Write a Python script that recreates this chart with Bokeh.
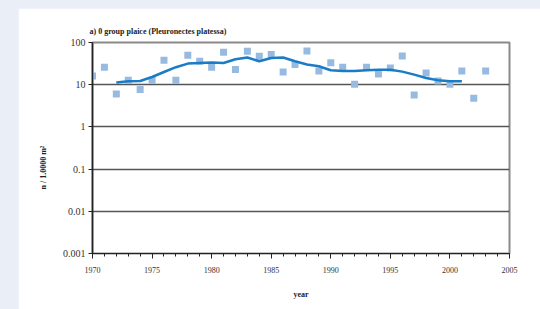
from bokeh.plotting import figure
from bokeh.models import FixedTicker, Range1d, ColumnDataSource, Title
from bokeh.embed import file_html
from bokeh.resources import INLINE

# Observed values (0 group plaice, n / 1.0000 m²)
years = list(range(1970, 2004))
density = [16, 26, 6, 12.7, 7.7, 12.7, 38, 12.7, 50, 36,
           26, 59, 23, 62, 47, 52, 20, 30, 63, 21,
           33, 26, 10.3, 26, 18, 25, 48, 5.7, 19, 12.2,
           10.2, 21, 4.8, 21]

# Smoothed trend
trend_years = list(range(1972, 2002))
trend = [11.3, 12, 12.2, 15.2, 20, 26, 31.6, 32.6, 33.5, 32.6,
         40, 44, 36, 43, 44, 36, 30, 27.3, 22, 21,
         21, 22, 22.7, 22.7, 20.4, 17.3, 14.4, 12.7, 12, 12]

y_ticks = [0.001, 0.01, 0.1, 1, 10, 100]
y_tick_labels = ["0.001", "0.01", "0.1", "1", "10", "100"]
x_major = [1970, 1975, 1980, 1985, 1990, 1995, 2000, 2005]
x_minor = list(range(1970, 2006))

SERIF = "Liberation Serif"

p = figure(width=522, height=301, y_axis_type="log",
           x_range=Range1d(1970, 2005), y_range=Range1d(0.001, 100),
           output_backend="svg", toolbar_location=None,
           min_border_left=74, min_border_right=31,
           min_border_top=34, min_border_bottom=56)
p.background_fill_color = "white"
p.border_fill_color = "white"
p.outline_line_color = "#8a8a8a"
p.outline_line_width = 2

p.title.text = "a) 0 group plaice (Pleuronectes platessa)"
p.title.text_font = SERIF
p.title.text_font_size = "8px"
p.title.text_font_style = "bold"
p.title.text_color = "#222222"
p.title.offset = -3
p.title.standoff = 14

# grid
p.xgrid.grid_line_color = None
p.ygrid.ticker = FixedTicker(ticks=y_ticks)
p.ygrid.grid_line_color = "#555555"
p.ygrid.grid_line_width = 1.3

# x axis
xa = p.xaxis[0]
xa.ticker = FixedTicker(ticks=x_major, minor_ticks=x_minor)
xa.axis_line_color = "#222222"
xa.axis_line_width = 1.2
xa.major_tick_in = 0
xa.major_tick_out = 5
xa.minor_tick_in = 0
xa.minor_tick_out = 3
xa.major_tick_line_color = "#222222"
xa.minor_tick_line_color = "#222222"
xa.major_label_text_font = SERIF
xa.major_label_text_font_size = "8px"
xa.major_label_text_color = "#333333"
xa.major_label_standoff = 8
xa.axis_label = "year"
xa.axis_label_text_font = SERIF
xa.axis_label_text_font_size = "8px"
xa.axis_label_text_font_style = "bold"
xa.axis_label_text_color = "#222222"
xa.axis_label_standoff = 14

# y axis
ya = p.yaxis[0]
ya.ticker = FixedTicker(ticks=y_ticks, minor_ticks=[])
ya.major_label_overrides = {t: l for t, l in zip(y_ticks, y_tick_labels)}
ya.axis_line_color = "#222222"
ya.axis_line_width = 1.5
ya.major_tick_in = 0
ya.major_tick_out = 4
ya.minor_tick_line_color = None
ya.major_tick_line_color = "#222222"
ya.major_label_text_font = SERIF
ya.major_label_text_font_size = "10px"
ya.major_label_text_color = "#333333"
ya.major_label_standoff = 3

ytitle = Title(text="n / 1.0000 m²", align="left", offset=64,
               text_font=SERIF, text_font_size="8px", text_font_style="bold",
               text_color="#222222", standoff=24)
p.add_layout(ytitle, "left")

src = ColumnDataSource(data=dict(x=years, y=density))
p.scatter("x", "y", source=src, marker="square", size=7,
          fill_color="#97bbe0", line_color=None)

tsrc = ColumnDataSource(data=dict(x=trend_years, y=trend))
p.line("x", "y", source=tsrc, line_color="#1a7cc4", line_width=2.5)

html = file_html(p, INLINE)
html = html.replace(
    "</head>",
    "<style>html,body{overflow:hidden;}"
    "body{background:#eaeef7;margin:0;padding:8px 0 0 18px;"
    "box-sizing:border-box;height:100%;}</style></head>", 1)
open("out.html", "w").write(html)
